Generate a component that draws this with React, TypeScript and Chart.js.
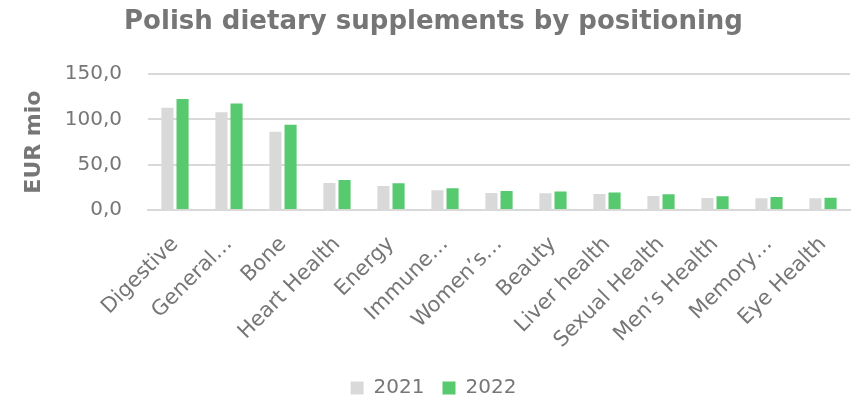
import React, { useEffect, useRef } from "react";
import { Chart, registerables } from "chart.js";

Chart.register(...registerables);

const categories = [
  "Digestive",
  "General…",
  "Bone",
  "Heart Health",
  "Energy",
  "Immune…",
  "Women’s…",
  "Beauty",
  "Liver health",
  "Sexual Health",
  "Men’s Health",
  "Memory…",
  "Eye Health",
];
const values2021 = [113, 108, 86.5, 29.8, 26.5, 21.7, 18.8, 18.4, 17.7, 15.5, 13.3, 12.9, 12.9];
const values2022 = [122.6, 117.5, 94.3, 33, 29.5, 24, 21, 20.3, 19.2, 17.3, 15.1, 14.4, 13.6];
const seriesNames = ["2021", "2022"];
const yTicks = [0, 50, 100, 150];

const FONT = "'DejaVu Sans', sans-serif";
const GREY_TEXT = "#767676";

export default function App() {
  const ref = useRef<HTMLCanvasElement | null>(null);
  useEffect(() => {
    if (!ref.current) return;
    const chart = new Chart(ref.current, {
      type: "bar",
      data: {
        labels: categories,
        datasets: [
          {
            label: seriesNames[0],
            data: values2021,
            backgroundColor: "#d9d9d9",
            categoryPercentage: 0.56,
            barPercentage: 0.8,
          },
          {
            label: seriesNames[1],
            data: values2022,
            backgroundColor: "#57c96f",
            categoryPercentage: 0.56,
            barPercentage: 0.8,
          },
        ],
      },
      options: {
        animation: false,
        responsive: true,
        maintainAspectRatio: false,
        layout: { padding: { left: 17, right: 4, top: 4, bottom: -6 } },
        plugins: {
          title: {
            display: true,
            text: "Polish dietary supplements by positioning",
            color: GREY_TEXT,
            font: { family: FONT, size: 26, weight: "bold" },
            padding: { top: 3, bottom: 36 },
          },
          legend: {
            position: "bottom",
            labels: {
              color: GREY_TEXT,
              font: { family: FONT, size: 20 },
              boxWidth: 13,
              boxHeight: 13,
              padding: 18,
            },
          },
          tooltip: { enabled: false },
        },
        scales: {
          x: {
            grid: { display: false },
            border: { display: true, color: "#d9d9d9", width: 2 },
            afterFit: (axis: any) => {
              axis.height = 150;
              axis.paddingLeft = 0;
              axis.paddingRight = 0;
            },
            ticks: {
              color: GREY_TEXT,
              font: { family: FONT, size: 21 },
              maxRotation: 45,
              minRotation: 45,
              autoSkip: false,
              padding: 14,
            },
          },
          y: {
            min: 0,
            max: 150,
            afterBuildTicks: (axis: any) => {
              axis.ticks = yTicks.map((v) => ({ value: v }));
            },
            afterFit: (axis: any) => {
              axis.width = 131;
            },
            grid: { color: "#d9d9d9", lineWidth: 2, drawTicks: false },
            border: { display: false },
            ticks: {
              color: GREY_TEXT,
              font: { family: FONT, size: 20 },
              padding: 26,
              callback: (v: any) => Number(v).toFixed(1).replace(".", ","),
            },
            title: {
              display: true,
              text: "EUR mio",
              color: GREY_TEXT,
              font: { family: FONT, size: 22, weight: "bold" },
              padding: { top: 4, bottom: 4 },
            },
          },
        },
      },
    });
    return () => chart.destroy();
  }, []);
  return (
    <div style={{ position: "absolute", left: 0, top: 0, width: 854, height: 402, background: "#fff" }}>
      <canvas ref={ref} />
    </div>
  );
}
